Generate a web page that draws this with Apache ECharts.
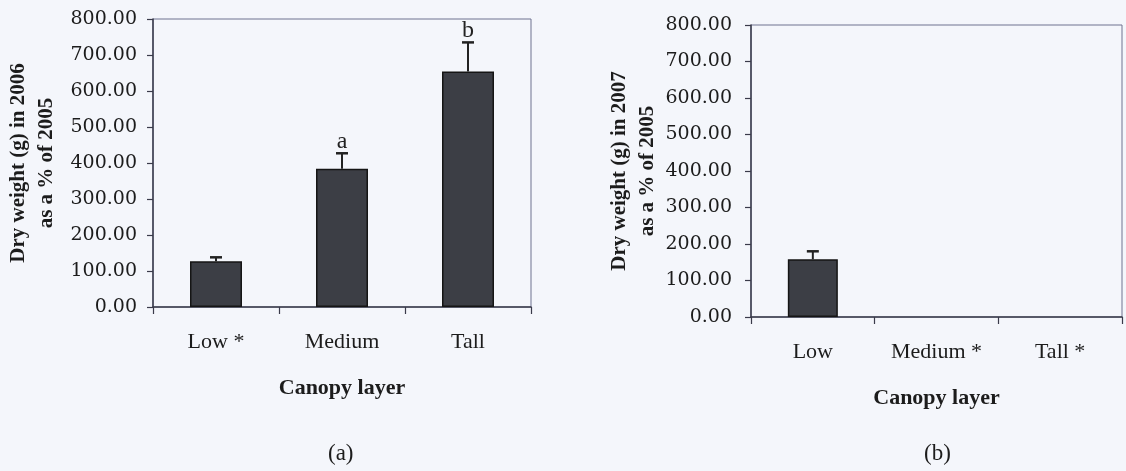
<!DOCTYPE html>
<html>
<head>
<meta charset="utf-8">
<script src="https://cdn.jsdelivr.net/npm/echarts@6/dist/echarts.min.js"></script>
<style>
html,body{margin:0;padding:0;background:#f4f6fb;}
#c{width:1126px;height:471px;}
</style>
</head>
<body>
<div id="c"></div>
<script>
// ---- data ----
const categoriesA = ['Low *', 'Medium', 'Tall'];
const valuesA = [127, 384, 654];
const errorsA = [11, 43, 81];
const lettersA = ['', 'a', 'b'];

const categoriesB = ['Low', 'Medium *', 'Tall *'];
const valuesB = [158, null, null];
const errorsB = [22, null, null];
const lettersB = ['', '', ''];

const yMin = 0, yMax = 800, yInterval = 100;
const yNameA = 'Dry weight (g) in 2006\nas a % of 2005';
const yNameB = 'Dry weight (g) in 2007\nas a % of 2005';
const xName = 'Canopy layer';
const panelLabels = ['(a)', '(b)'];

// ---- styles ----
const serif = 'Liberation Serif';
const axisColor = '#3a3b4a';
const boxColor = '#6f7290';
const barColor = '#3c3e45';

function errData(vals, errs) {
  return vals.map((v, i) => [i, v, errs[i]]);
}
function makeErrRender(letters) {
  return function (params, api) {
    const i = api.value(0), v = api.value(1), e = api.value(2);
    if (isNaN(v) || isNaN(e)) return null;
    const base = api.coord([i, v]);
    const top = api.coord([i, v + e]);
    const cap = 6;
    const children = [
      {type: 'line', shape: {x1: base[0], y1: base[1], x2: top[0], y2: top[1]},
       style: {stroke: '#222', lineWidth: 2}},
      {type: 'line', shape: {x1: top[0] - cap, y1: top[1], x2: top[0] + cap, y2: top[1]},
       style: {stroke: '#222', lineWidth: 2.5}}
    ];
    const L = letters[params.dataIndex];
    if (L) {
      children.push({type: 'text', style: {text: L, x: top[0], y: top[1],
        align: 'center', verticalAlign: 'bottom', fill: '#222',
        font: '24px "' + serif + '"'}});
    }
    return {type: 'group', children: children};
  };
}

function xAxis(gridIndex, cats) {
  return {
    type: 'category', gridIndex: gridIndex, data: cats,
    name: xName, nameLocation: 'middle', nameGap: 70,
    nameTextStyle: {fontFamily: serif, fontWeight: 'bold', fontSize: 22, color: '#1c1c1c'},
    axisLine: {lineStyle: {color: axisColor, width: 1.5}},
    axisTick: {show: true, length: 7, lineStyle: {color: axisColor, width: 1.2}},
    axisLabel: {fontFamily: serif, fontSize: 22, color: '#1c1c1c', margin: 24},
    splitLine: {show: false}
  };
}
function yAxis(gridIndex, name, nameGap, labelMargin) {
  return {
    type: 'value', gridIndex: gridIndex, min: yMin, max: yMax, interval: yInterval,
    name: name, nameLocation: 'middle', nameGap: nameGap, nameRotate: 90,
    nameTextStyle: {fontFamily: serif, fontWeight: 'bold', fontSize: 21, color: '#1c1c1c', lineHeight: 28},
    axisLine: {show: true, lineStyle: {color: axisColor, width: 1.5}},
    axisTick: {show: true, length: 6, lineStyle: {color: axisColor, width: 1.2}},
    axisLabel: {fontFamily: 'DejaVu Serif', fontSize: 19, color: '#1c1c1c', margin: labelMargin,
      formatter: v => v.toFixed(2)},
    splitLine: {show: false}
  };
}

const chart = echarts.init(document.getElementById('c'), null, {renderer: 'canvas'});
chart.setOption({
  backgroundColor: '#f4f6fb',
  animation: false,
  grid: [
    {left: 153, top: 19, width: 378, height: 288, show: true, borderColor: boxColor, borderWidth: 1, backgroundColor: 'transparent'},
    {left: 751, top: 25, width: 371, height: 292, show: true, borderColor: boxColor, borderWidth: 1, backgroundColor: 'transparent'}
  ],
  xAxis: [xAxis(0, categoriesA), xAxis(1, categoriesB)],
  yAxis: [yAxis(0, yNameA, 92, 16), yAxis(1, yNameB, 82, 19)],
  graphic: [
    {type: 'text', left: 328, top: 442, style: {text: panelLabels[0], font: '23px "' + serif + '"', fill: '#1c1c1c'}},
    {type: 'text', left: 924, top: 442, style: {text: panelLabels[1], font: '23px "' + serif + '"', fill: '#1c1c1c'}}
  ],
  series: [
    {type: 'bar', xAxisIndex: 0, yAxisIndex: 0, data: valuesA, barWidth: 52,
     itemStyle: {color: barColor, borderColor: '#151515', borderWidth: 1.5}},
    {type: 'custom', xAxisIndex: 0, yAxisIndex: 0, data: errData(valuesA, errorsA),
     renderItem: makeErrRender(lettersA), z: 5},
    {type: 'bar', xAxisIndex: 1, yAxisIndex: 1, data: valuesB, barWidth: 50,
     itemStyle: {color: barColor, borderColor: '#151515', borderWidth: 1.5}},
    {type: 'custom', xAxisIndex: 1, yAxisIndex: 1, data: errData(valuesB, errorsB),
     renderItem: makeErrRender(lettersB), z: 5}
  ]
});
</script>
</body>
</html>
